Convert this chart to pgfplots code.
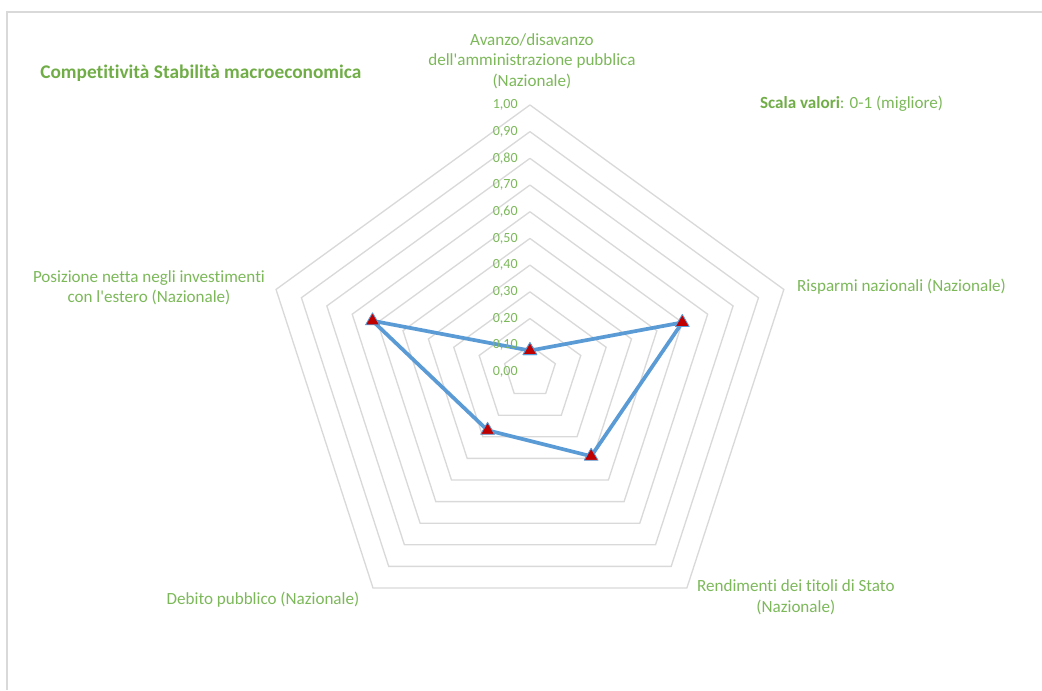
\documentclass[border=0pt]{standalone}
\usepackage{pgfplots}
\pgfplotsset{compat=1.18}
\usepackage{pgfplotstable}
\usepackage{fontspec}
\setmainfont{Carlito}[Ligatures={NoCommon}]
\definecolor{titlegreen}{HTML}{70AD47}
\definecolor{labgreen}{HTML}{7CB85A}
\definecolor{gridgray}{HTML}{D9D9D9}
\definecolor{lineblue}{HTML}{5B9BD5}
\definecolor{markred}{HTML}{C00000}

% data: angle (deg) and value
\pgfplotstableread{
a v
90 0.08
18 0.60
-54 0.39
-126 0.27
162 0.62
90 0.08
}\datatab

% unit pentagon for the grid rings
\pgfplotstableread{
x y
0 1
0.95106 0.30902
0.58779 -0.80902
-0.58779 -0.80902
-0.95106 0.30902
0 1
}\pent

\pgfplotstableread{
x y
-0.045 0.0
-0.045 0.1
-0.045 0.2
-0.045 0.3
-0.045 0.4
-0.045 0.5
-0.045 0.6
-0.045 0.7
-0.045 0.8
-0.045 0.9
-0.045 1.0
}\ticktab

\newcommand{\labfont}{\fontsize{12.8}{15.4}\selectfont}

\begin{document}
\begin{tikzpicture}
\begin{axis}[
  width=781.5pt, height=517.5pt, scale only axis,
  xmin=-1.985, xmax=1.918, ymin=-1.191, ymax=1.393,
  hide axis, clip=false,
]
\coordinate (sw) at (rel axis cs:0,0);
\coordinate (ne) at (rel axis cs:1,1);
% chart frame (top and left edges visible)
\draw[gridgray, line width=0.9pt] (axis cs:-1.959,-1.191) -- (axis cs:-1.959,1.348) -- (axis cs:1.918,1.348);

\pgfplotsinvokeforeach{0.1,0.2,0.3,0.4,0.5,0.6,0.7,0.8,0.9,1.0}{
  \addplot[gridgray, line width=1pt, mark=none, line join=miter]
    table[x expr=\thisrow{x}*#1, y expr=\thisrow{y}*#1]{\pent};
}

\addplot[draw=none, mark=none, point meta=y,
  nodes near coords={\pgfmathprintnumber[fixed,fixed zerofill,precision=2,use comma,assume math mode=true]{\pgfplotspointmeta}},
  every node near coord/.append style={anchor=east, inner sep=0pt, text=labgreen, font=\fontsize{10.5}{12}\selectfont}]
  table[x=x, y=y]{\ticktab};

\addplot[lineblue, line width=2.8pt, line join=round, mark=triangle*, mark size=6pt,
  mark options={fill=markred, draw=lineblue, line width=0.6pt}]
  table[x expr={\thisrow{v}*cos(\thisrow{a})}, y expr={\thisrow{v}*sin(\thisrow{a})}]{\datatab};

\node[font=\labfont, text=labgreen, align=center, inner sep=0pt] at (axis cs:0.0075,1.165)
  {Avanzo/disavanzo\\dell\textquotesingle amministrazione pubblica\\(Nazionale)};
\node[font=\labfont, text=labgreen, anchor=west, inner sep=0pt] at (axis cs:1.0,0.318)
  {Risparmi nazionali (Nazionale)};
\node[font=\labfont, text=labgreen, align=center, inner sep=0pt] at (axis cs:0.996,-0.843)
  {Rendimenti dei titoli di Stato\\(Nazionale)};
\node[font=\labfont, text=labgreen, inner sep=0pt] at (axis cs:-1.0,-0.854)
  {Debito pubblico (Nazionale)};
\node[font=\labfont, text=labgreen, align=center, inner sep=0pt] at (axis cs:-1.427,0.316)
  {Posizione netta negli investimenti\\con l\textquotesingle estero (Nazionale)};
\node[font=\fontsize{14.5}{17}\selectfont\bfseries, text=titlegreen, anchor=west, inner sep=0pt] at (axis cs:-1.835,1.120)
  {Competitività Stabilità macroeconomica};
\node[font=\labfont, text=labgreen, anchor=west, inner sep=0pt] at (axis cs:0.861,1.004)
  {{\bfseries\color{titlegreen}Scala valori}: 0-1 (migliore)};
\end{axis}
\pgfresetboundingbox
\path (sw) rectangle (ne);
\end{tikzpicture}
\end{document}
